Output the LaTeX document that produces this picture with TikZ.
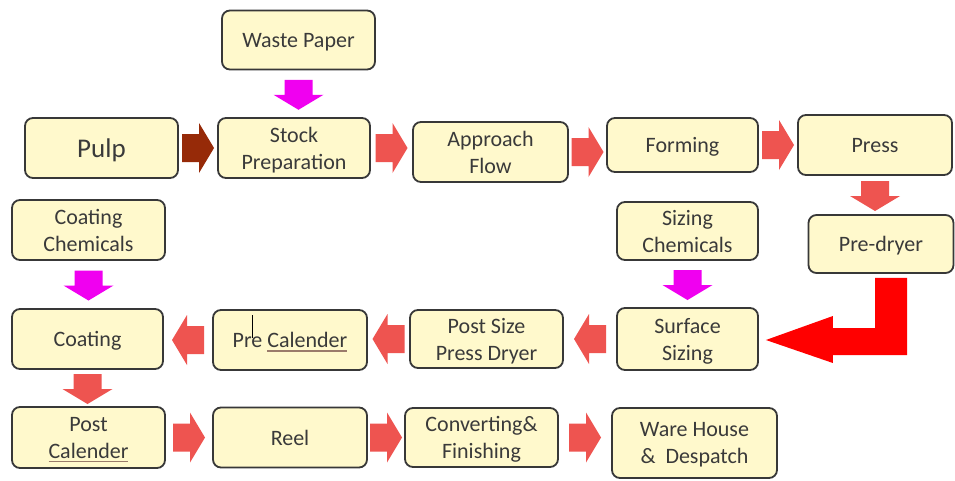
\documentclass[tikz,border=0pt]{standalone}
\usepackage{fontspec}
\setmainfont{Carlito}
\usetikzlibrary{calc}
\definecolor{boxfill}{HTML}{FFF9CC}
\definecolor{boxline}{HTML}{383838}
\definecolor{txt}{HTML}{3A3A3A}
\definecolor{salm}{HTML}{EE5450}
\definecolor{mag}{HTML}{F000F0}
\definecolor{brn}{HTML}{962A08}
\definecolor{bigred}{HTML}{FF0000}
\definecolor{ulc}{HTML}{9A7B6B}
\newcommand\spellu[1]{\setbox0\hbox{#1}\rlap{\color{ulc}\rule[-4pt]{\wd0}{1.2pt}}\box0}
% right block arrow centred between two nodes
\newcommand\rarr[3][salm]{\fill[#1] let \p1=(#2.east), \p2=(#3.west), \p3=(#2.center) in
  ({(\x1+\x2)/2-16pt},{\y3+14pt}) -- ({(\x1+\x2)/2+1pt},{\y3+14pt}) -- ({(\x1+\x2)/2+1pt},{\y3+25pt})
  -- ({(\x1+\x2)/2+16pt},{\y3}) -- ({(\x1+\x2)/2+1pt},{\y3-25pt}) -- ({(\x1+\x2)/2+1pt},{\y3-14pt})
  -- ({(\x1+\x2)/2-16pt},{\y3-14pt}) -- cycle;}
% left block arrow
\newcommand\larr[3][salm]{\fill[#1] let \p1=(#2.west), \p2=(#3.east), \p3=(#2.center) in
  ({(\x1+\x2)/2+16pt},{\y3+14pt}) -- ({(\x1+\x2)/2-1pt},{\y3+14pt}) -- ({(\x1+\x2)/2-1pt},{\y3+25pt})
  -- ({(\x1+\x2)/2-16pt},{\y3}) -- ({(\x1+\x2)/2-1pt},{\y3-25pt}) -- ({(\x1+\x2)/2-1pt},{\y3-14pt})
  -- ({(\x1+\x2)/2+16pt},{\y3-14pt}) -- cycle;}
% down block arrow
\newcommand\darr[3][salm]{\fill[#1] let \p1=(#2.south), \p2=(#3.north), \p3=(#2.center) in
  ({\x3-14pt},{(\y1+\y2)/2+14pt}) -- ({\x3+14pt},{(\y1+\y2)/2+14pt}) -- ({\x3+14pt},{(\y1+\y2)/2-1pt})
  -- ({\x3+25pt},{(\y1+\y2)/2-1pt}) -- ({\x3},{(\y1+\y2)/2-16pt}) -- ({\x3-25pt},{(\y1+\y2)/2-1pt})
  -- ({\x3-14pt},{(\y1+\y2)/2-1pt}) -- cycle;}
\tikzset{
  box/.style={draw=boxline, fill=boxfill, line width=1.8pt, rounded corners=8pt, inner sep=0pt,
    align=center, text=txt, text depth=0pt, font=\fontsize{22}{27}\selectfont},
}
\begin{document}
\begin{tikzpicture}[x=1pt,y=-1pt]
\useasboundingbox (0,0) rectangle (955,480);
\fill[white] (0,0) rectangle (955,480);
% nodes
\node[box, minimum width=153pt, minimum height=59pt] (waste) at (298.5,40) {Waste Paper};
\node[box, minimum width=153pt, minimum height=60pt, font=\fontsize{27}{30}\selectfont] (pulp) at (101.5,148) {Pulp};
\node[box, minimum width=152pt, minimum height=60pt] (stock) at (294,148) {Stock\\Preparation};
\node[box, minimum width=155pt, minimum height=60pt] (approach) at (490.5,152) {Approach\\Flow};
\node[box, minimum width=151pt, minimum height=54pt] (forming) at (682.5,145) {Forming};
\node[box, minimum width=154pt, minimum height=60pt] (press) at (875,145) {Press};
\node[box, minimum width=153pt, minimum height=60pt] (coatchem) at (88.5,230) {Coating\\Chemicals};
\node[box, minimum width=141pt, minimum height=58pt] (sizchem) at (687.5,231) {Sizing\\Chemicals};
\node[box, minimum width=145pt, minimum height=58pt] (predryer) at (881,244) {Pre-dryer};
\node[box, minimum width=151pt, minimum height=60pt] (coating) at (87.5,339) {Coating};
\node[box, minimum width=154pt, minimum height=60pt] (precal) at (290,340) {Pre \spellu{Calender}};
\node[box, minimum width=153pt, minimum height=58pt] (postsize) at (486.5,339) {Post Size\\Press Dryer};
\node[box, minimum width=141pt, minimum height=62pt] (surface) at (687.5,339) {Surface\\Sizing};
\node[box, minimum width=153pt, minimum height=61pt] (postcal) at (88.5,437.5) {Post\\\spellu{Calender}};
\node[box, minimum width=154pt, minimum height=60pt] (reel) at (290,437.5) {Reel};
\node[box, minimum width=153pt, minimum height=59pt] (conv) at (481.5,437.5) {Converting\&\\Finishing};
\node[box, minimum width=165pt, minimum height=70pt] (ware) at (694.5,443) {Ware House\\\&\ \ Despatch};
% text cursor
\draw[line width=1pt, black] (252,315) -- (252,338);
% arrows
\rarr[brn]{pulp}{stock}
\rarr{stock}{approach}
\rarr{approach}{forming}
\rarr{forming}{press}
\darr{press}{predryer}
\darr[mag]{waste}{stock}
\darr[mag]{coatchem}{coating}
\darr[mag]{sizchem}{surface}
\larr{surface}{postsize}
\larr{postsize}{precal}
\larr{precal}{coating}
\darr{coating}{postcal}
\rarr{postcal}{reel}
\rarr{reel}{conv}
\rarr{conv}{ware}
% big L-shaped arrow from pre-dryer to surface sizing
\fill[bigred] let \p1=(predryer.south), \p2=(surface.east) in
  ({\x1-6pt},{\y1-4pt}) -- ({\x1+26pt},{\y1-4pt}) -- ({\x1+26pt},{\y2-16pt}) -- ({\x2+74pt},{\y2-16pt})
  -- ({\x2+74pt},{\y2-24pt}) -- ({\x2+7pt},{\y2-1pt}) -- ({\x2+74pt},{\y2+23pt}) -- ({\x2+74pt},{\y2+11pt})
  -- ({\x1-6pt},{\y2+11pt}) -- cycle;
\end{tikzpicture}
\end{document}
